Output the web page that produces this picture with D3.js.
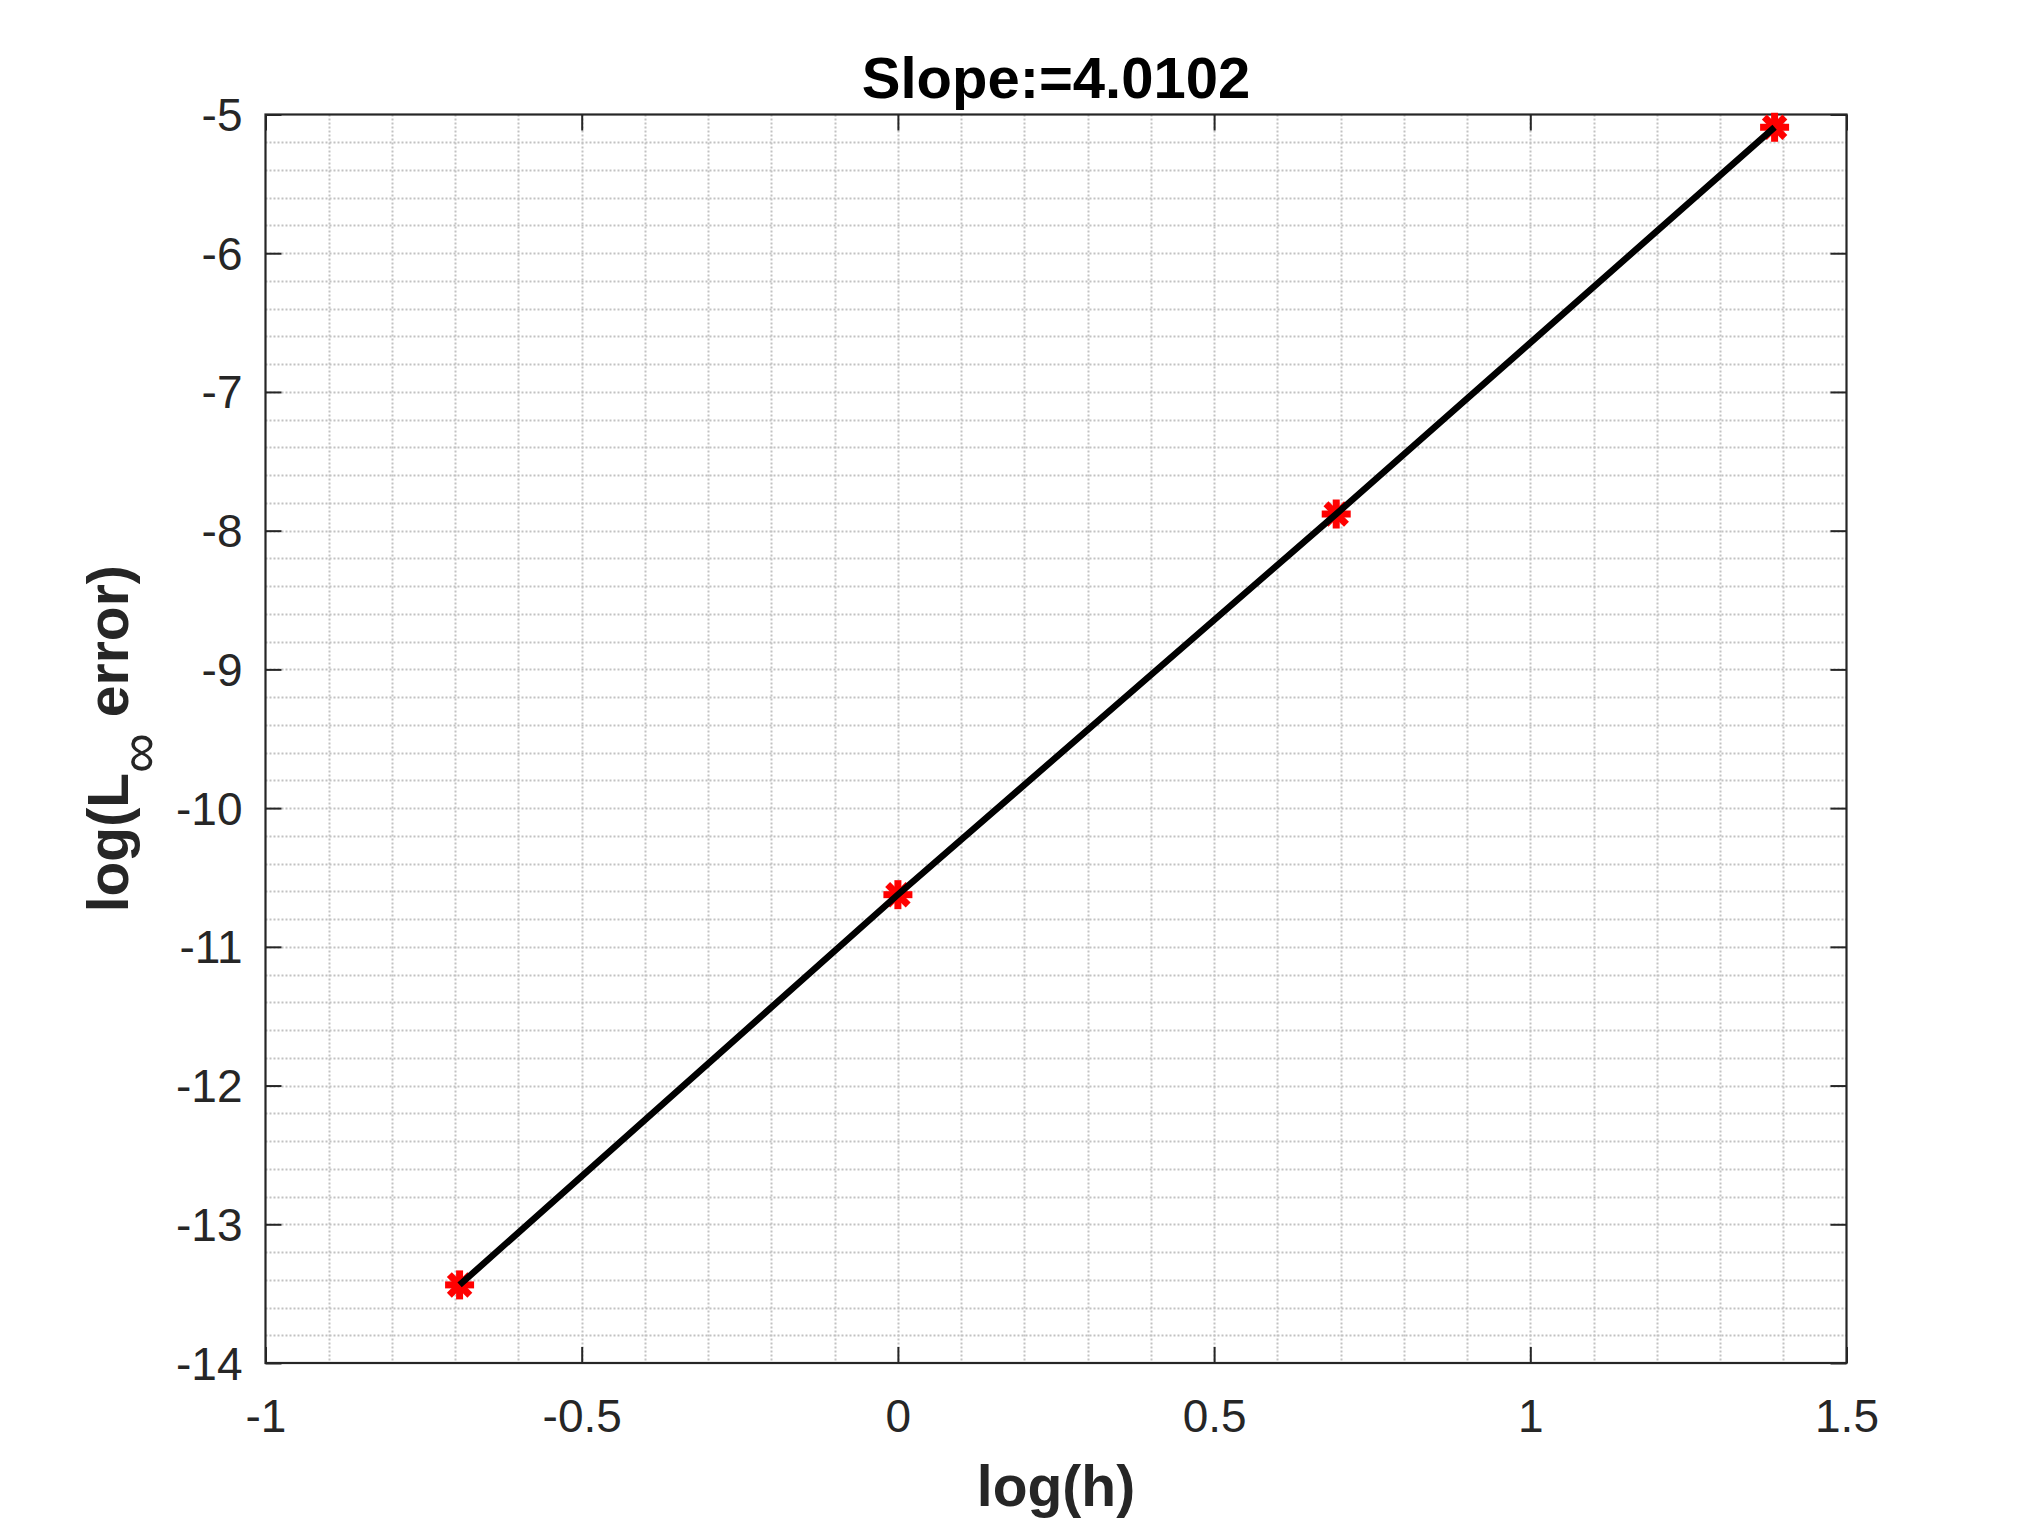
<!DOCTYPE html>
<html>
<head>
<meta charset="utf-8">
<script src="https://cdn.jsdelivr.net/npm/d3@7"></script>
<style>
  html, body { margin: 0; padding: 0; background: #fff; }
  svg { display: block; }
  text { font-family: "Liberation Sans", Arial, Helvetica, sans-serif; }
</style>
</head>
<body>
<svg id="chart" width="2042" height="1531"></svg>
<script>
// ---- Data ----
const logH = [-0.6931, 0.0, 0.6931, 1.3863];
const logErr = [-13.437, -10.624, -7.880, -5.092];
const xTicks = [-1, -0.5, 0, 0.5, 1, 1.5];
const yTicks = [-14, -13, -12, -11, -10, -9, -8, -7, -6, -5];
const xMinorTicks = d3.range(-10, 16).map(i => i / 10);
const yMinorTicks = d3.range(-70, -24).map(i => i / 5);
const titleText = "Slope:=4.0102";
const xLabelText = "log(h)";

// ---- Layout ----
const L = 265.5, R = 1846.5, T = 114.5, B = 1363;
const svg = d3.select("#chart");

const x = d3.scaleLinear().domain([-1, 1.5]).range([L, R]);
const y = d3.scaleLinear().domain([-14, -5]).range([B, T]);

const axisColor = "#262626";
const gridColor = "#c2c2c2";

// minor + major grid (dotted)
const grid = svg.append("g");
grid.selectAll("line.gx").data(xMinorTicks.filter(v => v > -1 && v < 1.5)).enter()
  .append("line").attr("class", "gx")
  .attr("x1", d => Math.round(x(d)) + 0.5).attr("x2", d => Math.round(x(d)) + 0.5)
  .attr("y1", T).attr("y2", B)
  .attr("stroke", gridColor).attr("stroke-width", 2).attr("stroke-dasharray", "2,2");
grid.selectAll("line.gy").data(yMinorTicks.filter(v => v > -14 && v < -5)).enter()
  .append("line").attr("class", "gy")
  .attr("y1", d => Math.round(y(d)) + 0.5).attr("y2", d => Math.round(y(d)) + 0.5)
  .attr("x1", L).attr("x2", R)
  .attr("stroke", gridColor).attr("stroke-width", 2).attr("stroke-dasharray", "2,2");

// axes (ticks inside)
const tickLen = 16;
const fontTick = 46;
const bottomAxis = d3.axisBottom(x).tickValues(xTicks).tickSize(-tickLen).tickPadding(0)
  .tickFormat(d => String(d));
const leftAxis = d3.axisLeft(y).tickValues(yTicks).tickSize(-tickLen).tickPadding(0)
  .tickFormat(d => String(d));
const topAxis = d3.axisTop(x).tickValues(xTicks).tickSize(-tickLen).tickFormat("");
const rightAxis = d3.axisRight(y).tickValues(yTicks).tickSize(-tickLen).tickFormat("");

function styleAxis(g) {
  g.select(".domain").remove();
  g.selectAll(".tick line").attr("stroke", axisColor).attr("stroke-width", 2);
  g.selectAll(".tick text").attr("fill", axisColor).attr("font-size", fontTick)
    .attr("font-family", "Liberation Sans, Arial, sans-serif");
}

const gb = svg.append("g").attr("transform", `translate(0,${B})`).call(bottomAxis).call(styleAxis);
gb.selectAll(".tick text").attr("dy", null).attr("y", 69);
const gl = svg.append("g").attr("transform", `translate(${L},0)`).call(leftAxis).call(styleAxis);
gl.selectAll(".tick text").attr("x", -23).attr("dy", null).attr("y", 16);
svg.append("g").attr("transform", `translate(0,${T})`).call(topAxis).call(styleAxis);
svg.append("g").attr("transform", `translate(${R},0)`).call(rightAxis).call(styleAxis);

// box
svg.append("rect").attr("x", L).attr("y", T).attr("width", R - L).attr("height", B - T)
  .attr("fill", "none").attr("stroke", axisColor).attr("stroke-width", 2.2);

// markers (asterisk)
const pts = logH.map((v, i) => [v, logErr[i]]);
const starR = 14.5;
const stars = svg.append("g").selectAll("g").data(pts).enter().append("g")
  .attr("transform", d => `translate(${x(d[0])},${y(d[1])})`);
[0, 45, 90, 135].forEach(a => {
  const rad = a * Math.PI / 180;
  stars.append("line")
    .attr("x1", -starR * Math.cos(rad)).attr("y1", -starR * Math.sin(rad))
    .attr("x2", starR * Math.cos(rad)).attr("y2", starR * Math.sin(rad))
    .attr("stroke", "#ff0000").attr("stroke-width", 7);
});

// line
const line = d3.line().x(d => x(d[0])).y(d => y(d[1]));
svg.append("path").datum(pts).attr("d", line)
  .attr("fill", "none").attr("stroke", "#000").attr("stroke-width", 6.5)
  .attr("stroke-linejoin", "round");

// title
svg.append("text").attr("x", (L + R) / 2).attr("y", 98).attr("text-anchor", "middle")
  .attr("font-size", 58).attr("font-weight", "bold").attr("fill", "#000")
  .text(titleText);

// x label
svg.append("text").attr("x", (L + R) / 2).attr("y", 1506).attr("text-anchor", "middle")
  .attr("font-size", 57).attr("font-weight", "bold").attr("fill", axisColor)
  .text(xLabelText);

// y label with subscript infinity
const yl = svg.append("text")
  .attr("transform", `translate(128,${(T + B) / 2}) rotate(-90)`)
  .attr("text-anchor", "middle")
  .attr("font-size", 57).attr("font-weight", "bold").attr("fill", axisColor);
yl.append("tspan").text("log(L");
yl.append("tspan").attr("font-weight", "normal").attr("font-size", 56).attr("dy", 30).text("\u221E");
yl.append("tspan").attr("dy", -30).text("\u00A0error)");
</script>
</body>
</html>
